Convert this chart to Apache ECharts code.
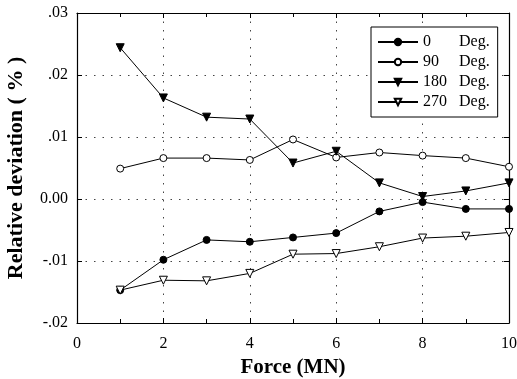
<!DOCTYPE html>
<html><head><meta charset="utf-8">
<script src="https://cdn.jsdelivr.net/npm/echarts@6/dist/echarts.min.js"></script>
<style>html,body{margin:0;padding:0;background:#fff}#c{width:517px;height:379px}</style>
</head><body><div id="c"></div>
<script>
var forces = [1,2,3,4,5,6,7,8,9,10];
var deg0   = [-0.0147,-0.0098,-0.0066,-0.0069,-0.0062,-0.0055,-0.0020,-0.0005,-0.0016,-0.0016];
var deg90  = [0.0049,0.0066,0.0066,0.0063,0.0096,0.0067,0.0075,0.0070,0.0066,0.0052];
var deg180 = [0.0244,0.0163,0.0132,0.0129,0.0058,0.0077,0.0026,0.0004,0.0013,0.0026];
var deg270 = [-0.0147,-0.0131,-0.0132,-0.0120,-0.0089,-0.0088,-0.0077,-0.0063,-0.0060,-0.0054];
var seriesNames = ['0','90','180','270'];
var yTickLabels = ['-.02','-.01','0.00','.01','.02','.03'];
var xTickLabels = ['0','2','4','6','8','10'];

var serif = '"Liberation Serif","DejaVu Serif",serif';
function pts(arr){ return forces.map(function(f,i){ return [f, arr[i]]; }); }
function mk(name, data, symbol, filled, rot){
  return {
    name: name, type: 'line', data: pts(data),
    xAxisIndex:0, yAxisIndex:0,
    symbol: symbol, symbolSize: symbol === 'circle' ? 7 : 8,
    symbolRotate: rot || 0,
    lineStyle: {color:'#000', width:1},
    itemStyle: {color: filled ? '#000' : '#fff', borderColor:'#000', borderWidth:1},
    emphasis: {disabled:true}, animation:false
  };
}
var chart = echarts.init(document.getElementById('c'), null, {renderer:'canvas'});
var axLine = {show:true, onZero:false, lineStyle:{color:'#000', width:1.2}};
chart.setOption({
  backgroundColor:'#fff',
  animation:false,
  grid:{left:77, right:8, top:13, bottom:56, show:false, containLabel:false, outerBoundsMode:'none'},
  legend:{
    orient:'vertical', left:371, top:27,
    itemWidth:40, itemHeight:8, itemGap:4,
    padding:[7,8,7,6],
    borderColor:'#000', borderWidth:1,
    backgroundColor:'#fff',
    data: seriesNames,
    formatter: function(n){ return '{a|' + n + '}{b|Deg.}'; },
    textStyle:{fontFamily:serif, fontSize:16, color:'#000',
      rich:{a:{fontFamily:serif,fontSize:16,width:36,color:'#000'}, b:{fontFamily:serif,fontSize:16,color:'#000'}}}
  },
  xAxis:[{
    type:'value', min:0, max:10, interval:2,
    name:'Force (MN)', nameLocation:'middle', nameGap:32,
    nameTextStyle:{fontFamily:serif, fontSize:21, fontWeight:'bold', color:'#000'},
    axisLine:axLine,
    axisTick:{show:true, inside:true, length:5, lineStyle:{color:'#000'}},
    minorTick:{show:true, splitNumber:2, length:4, lineStyle:{color:'#000'}},
    axisLabel:{fontFamily:serif, fontSize:16, color:'#000', margin:13,
      formatter:function(v){ return xTickLabels[Math.round(v/2)]; }},
    splitLine:{show:true, lineStyle:{color:'#444', width:1, type:[1.5,7]}}
  },{
    type:'value', position:'top', min:0, max:10, interval:2,
    axisLine:axLine,
    axisTick:{show:true, inside:true, length:5, lineStyle:{color:'#000'}},
    minorTick:{show:true, splitNumber:2, length:4, lineStyle:{color:'#000'}},
    axisLabel:{show:false}, splitLine:{show:false}
  }],
  yAxis:[{
    type:'value', min:-0.02, max:0.03, interval:0.01,
    name:'Relative deviation ( % )', nameLocation:'middle', nameGap:50, nameRotate:90,
    nameTextStyle:{fontFamily:serif, fontSize:22, fontWeight:'bold', color:'#000'},
    axisLine:axLine,
    axisTick:{show:true, inside:true, length:5, lineStyle:{color:'#000'}},
    axisLabel:{fontFamily:serif, fontSize:16, color:'#000', margin:9,
      formatter:function(v){ return yTickLabels[Math.round(v*100)+2]; }},
    splitLine:{show:true, lineStyle:{color:'#444', width:1, type:[1.5,7]}}
  },{
    type:'value', position:'right', min:-0.02, max:0.03, interval:0.01,
    axisLine:axLine,
    axisTick:{show:true, inside:true, length:5, lineStyle:{color:'#000'}},
    axisLabel:{show:false}, splitLine:{show:false}
  }],
  series:[
    mk('0', deg0, 'circle', true),
    mk('90', deg90, 'circle', false),
    mk('180', deg180, 'triangle', true, 180),
    mk('270', deg270, 'triangle', false, 180)
  ]
});
</script></body></html>
